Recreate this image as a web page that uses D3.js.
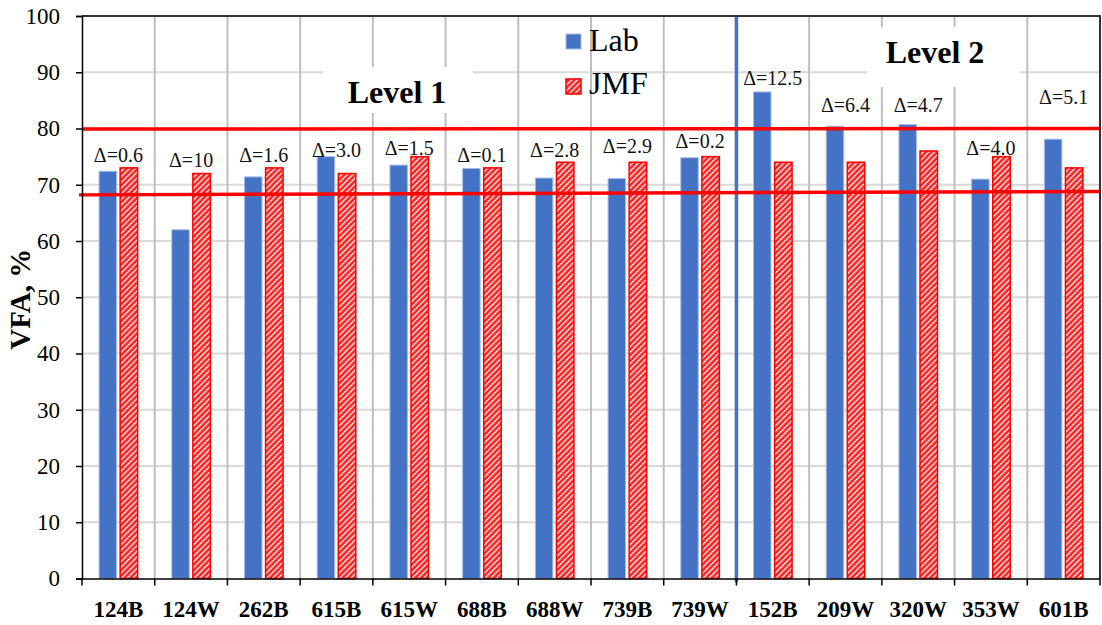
<!DOCTYPE html>
<html>
<head>
<meta charset="utf-8">
<script src="https://cdn.jsdelivr.net/npm/d3@7"></script>
<style>
  html, body { margin: 0; padding: 0; background: #fff; }
  svg, svg text { font-family: "Liberation Serif", "Times New Roman", Tinos, "DejaVu Serif", serif !important; }
</style>
</head>
<body>
<svg id="chart" width="1102" height="625"></svg>
<script>
// ---- data ----
const categories = ["124B","124W","262B","615B","615W","688B","688W","739B","739W","152B","209W","320W","353W","601B"];
const labValues  = [72.4, 62.0, 71.4, 75.0, 73.5, 72.9, 71.2, 71.1, 74.8, 86.5, 80.4, 80.7, 71.0, 78.1];
const jmfValues  = [73, 72, 73, 72, 75, 73, 74, 74, 75, 74, 74, 76, 75, 73];
const deltaLabels = ["Δ=0.6","Δ=10","Δ=1.6","Δ=3.0","Δ=1.5","Δ=0.1","Δ=2.8","Δ=2.9","Δ=0.2","Δ=12.5","Δ=6.4","Δ=4.7","Δ=4.0","Δ=5.1"];
const deltaLabelAt = [74.1, 73.2, 74.1, 75.0, 75.3, 74.1, 75.0, 75.7, 76.6, 87.8, 82.9, 82.9, 75.3, 84.4];
const yTicks = [0,10,20,30,40,50,60,70,80,90,100];
const seriesNames = ["Lab","JMF"];
const upperLimit = [79.9, 80.0];   // red line, left and right ends
const lowerLimit = [68.2, 68.8];
const levelSplit = "152B";         // first category of Level 2

const FONT = '"Liberation Serif", "Times New Roman", Tinos, "DejaVu Serif", serif';

// ---- layout ----
const svg = d3.select("#chart");
const L = 82, R = 1100, T = 16, B = 578.5;
const x0 = d3.scaleBand().domain(categories).range([L, R]).padding(0);
const x1 = d3.scaleBand().domain(seriesNames).range([0, x0.bandwidth()]).paddingInner(0.17).paddingOuter(0.81);
const y = d3.scaleLinear().domain([0, 100]).range([B, T]);

// pattern for JMF
const defs = svg.append("defs");
const pat = defs.append("pattern").attr("id","hatch").attr("patternUnits","userSpaceOnUse")
  .attr("width",4).attr("height",4).attr("patternTransform","rotate(-45)");
pat.append("rect").attr("width",4).attr("height",4).attr("fill","#ff2020");
pat.append("rect").attr("x",0).attr("y",0).attr("width",4).attr("height",1.3).attr("fill","#ffffff");

// horizontal gridlines
svg.append("g").selectAll("line").data(yTicks.filter(t => t > 0 && t < 100)).join("line")
  .attr("x1", L).attr("x2", R).attr("y1", d => y(d)).attr("y2", d => y(d))
  .attr("stroke", "#d9d9d9").attr("stroke-width", 2);

// vertical gridlines at category boundaries
svg.append("g").selectAll("line").data(categories.slice(1)).join("line")
  .attr("x1", d => x0(d)).attr("x2", d => x0(d)).attr("y1", T).attr("y2", B)
  .attr("stroke", "#bfbfbf").attr("stroke-width", 2);

// white boxes behind level titles
svg.append("rect").attr("x", 323).attr("y", 67).attr("width", 150).attr("height", 46).attr("fill", "#fff");
svg.append("rect").attr("x", 867).attr("y", 27).attr("width", 153).attr("height", 60).attr("fill", "#fff");
svg.append("text").attr("x", 397).attr("y", 103).attr("text-anchor","middle").style("font-family", FONT)
  .attr("font-size", 32).attr("font-weight","bold").text("Level 1");
svg.append("text").attr("x", 935).attr("y", 63).attr("text-anchor","middle").style("font-family", FONT)
  .attr("font-size", 32).attr("font-weight","bold").text("Level 2");

// bars
const groups = svg.append("g").selectAll("g").data(categories).join("g")
  .attr("transform", d => `translate(${x0(d)},0)`);
groups.append("rect")
  .attr("x", x1("Lab")).attr("width", x1.bandwidth())
  .attr("y", (d,i) => y(labValues[i])).attr("height", (d,i) => y(0) - y(labValues[i]))
  .attr("fill", "#4472c4").attr("stroke", "#a6bde6").attr("stroke-width", 1);
groups.append("rect")
  .attr("x", x1("JMF")).attr("width", x1.bandwidth())
  .attr("y", (d,i) => y(jmfValues[i])).attr("height", (d,i) => y(0) - y(jmfValues[i]))
  .attr("fill", "url(#hatch)").attr("stroke", "#ff0000").attr("stroke-width", 1.5);

// delta labels
svg.append("g").selectAll("text").data(categories).join("text")
  .attr("x", d => x0(d) + x0.bandwidth()/2)
  .attr("y", (d,i) => y(deltaLabelAt[i]))
  .attr("text-anchor","middle").attr("font-size", 20).attr("fill","#111").style("font-family", FONT)
  .text((d,i) => deltaLabels[i]);

// level separator
svg.append("line").attr("x1", x0(levelSplit)).attr("x2", x0(levelSplit))
  .attr("y1", T).attr("y2", B + 4)
  .attr("stroke", "#4472c4").attr("stroke-width", 3.5);

// red limit lines
svg.append("line").attr("x1", L).attr("x2", R)
  .attr("y1", y(upperLimit[0])).attr("y2", y(upperLimit[1]))
  .attr("stroke", "#ff0000").attr("stroke-width", 3.5);
svg.append("line").attr("x1", L - 3).attr("x2", R)
  .attr("y1", y(lowerLimit[0])).attr("y2", y(lowerLimit[1]))
  .attr("stroke", "#ff0000").attr("stroke-width", 3.5);

// frame (top & right)
svg.append("line").attr("x1", L).attr("x2", R + 1).attr("y1", T).attr("y2", T)
  .attr("stroke", "#333").attr("stroke-width", 2);
svg.append("line").attr("x1", R).attr("x2", R).attr("y1", T).attr("y2", B)
  .attr("stroke", "#333").attr("stroke-width", 2);

// y axis
const yAxis = svg.append("g").attr("transform", `translate(${L},0)`)
  .call(d3.axisLeft(y).tickValues(yTicks).tickSize(6).tickPadding(16).tickFormat(d3.format("d")));
yAxis.attr("font-family", null);
yAxis.select(".domain").attr("stroke","#000").attr("stroke-width",1.5);
yAxis.selectAll(".tick line").attr("stroke","#000").attr("stroke-width",1.5);
yAxis.selectAll(".tick text").style("font-family", FONT).attr("font-size",23).attr("fill","#000");

// x axis
const xAxis = svg.append("g").attr("transform", `translate(0,${B})`)
  .call(d3.axisBottom(x0).tickSize(0).tickPadding(22));
xAxis.attr("font-family", null);
xAxis.select(".domain").attr("stroke","#000").attr("stroke-width",1.5);
xAxis.selectAll(".tick text").style("font-family", FONT).attr("font-size",23)
  .attr("font-weight","bold").attr("fill","#000");
svg.append("g").selectAll("line").data(categories.concat(["__end"])).join("line")
  .attr("x1", d => d === "__end" ? R : x0(d)).attr("x2", d => d === "__end" ? R : x0(d))
  .attr("y1", B).attr("y2", B + 7).attr("stroke","#000").attr("stroke-width",1.5);

// y title
svg.append("text").attr("transform", `translate(30,${(T+B)/2 + 2}) rotate(-90)`).style("font-family", FONT)
  .attr("text-anchor","middle").attr("font-size", 29).attr("font-weight","bold").text("VFA, %");

// legend
const leg = svg.append("g");
leg.append("rect").attr("x", 566).attr("y", 34).attr("width", 15).attr("height", 15)
  .attr("fill","#4472c4").attr("stroke","#a6bde6").attr("stroke-width",1);
leg.append("text").attr("x", 589).attr("y", 51).attr("font-size", 32).style("font-family", FONT).text("Lab");
leg.append("rect").attr("x", 566).attr("y", 79).attr("width", 15).attr("height", 15)
  .attr("fill","url(#hatch)").attr("stroke","#ff0000").attr("stroke-width",1.5);
leg.append("text").attr("x", 589).attr("y", 94).attr("font-size", 32).style("font-family", FONT).text("JMF");
</script>
</body>
</html>
